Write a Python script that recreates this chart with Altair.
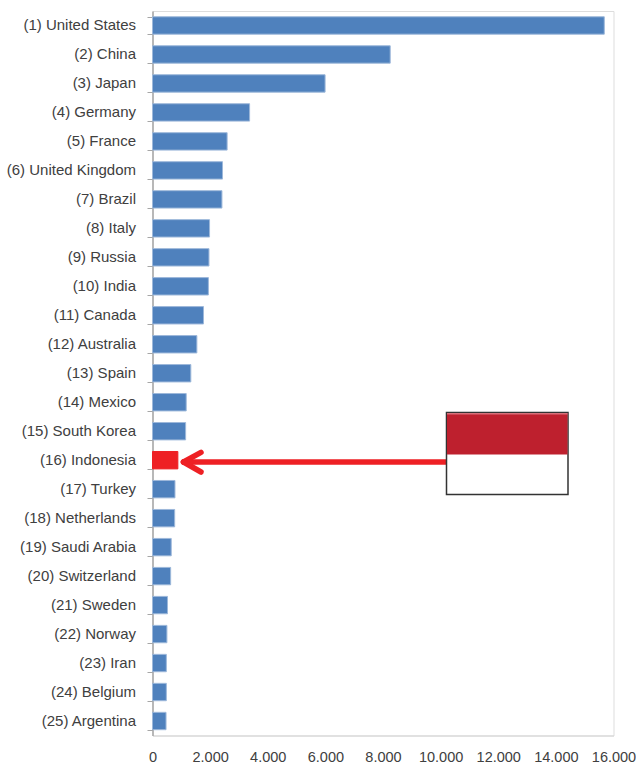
import altair as alt
import pandas as pd

countries = ["(1) United States", "(2) China", "(3) Japan", "(4) Germany", "(5) France",
             "(6) United Kingdom", "(7) Brazil", "(8) Italy", "(9) Russia", "(10) India",
             "(11) Canada", "(12) Australia", "(13) Spain", "(14) Mexico", "(15) South Korea",
             "(16) Indonesia", "(17) Turkey", "(18) Netherlands", "(19) Saudi Arabia",
             "(20) Switzerland", "(21) Sweden", "(22) Norway", "(23) Iran", "(24) Belgium",
             "(25) Argentina"]
gdp = [15680, 8250, 5990, 3370, 2590, 2430, 2410, 1980, 1960, 1940, 1770, 1540, 1330,
       1170, 1150, 880, 780, 770, 650, 630, 520, 500, 480, 480, 470]
highlight = "(16) Indonesia"

FONT = "Liberation Sans"
INK = "#404040"

df = pd.DataFrame({"country": countries, "gdp": gdp})
df["kind"] = ["focus" if c == highlight else "other" for c in countries]

y_enc = alt.Y("country:N", sort=countries, title=None,
              scale=alt.Scale(paddingInner=0.4, paddingOuter=0.2),
              axis=alt.Axis(tickBand="extent", tickSize=5.5, tickColor="#a6a6a6", tickWidth=1,
                            domainColor="#a6a6a6", domainWidth=1.5, labelFont=FONT,
                            labelFontSize=15, labelColor=INK, labelPadding=11.5, labelOffset=-1,
                            labelLimit=200, grid=False))
x_enc = alt.X("gdp:Q", title=None,
              scale=alt.Scale(domain=[0, 16000], nice=False),
              axis=alt.Axis(values=list(range(0, 16001, 2000)), grid=False, ticks=False,
                            domainColor="#d4d4d4", domainWidth=1, labelFont=FONT,
                            labelFontSize=14.5, labelColor=INK, labelPadding=15,
                            labelFlush=False, labelOverlap=False,
                            labelExpr="replace(format(datum.value, ','), ',', '.')"))

bars = alt.Chart(df).mark_bar(strokeWidth=1).encode(
    x=x_enc, y=y_enc,
    fill=alt.Fill("kind:N", scale=alt.Scale(domain=["focus", "other"], range=["#ee2024", "#4f81bd"]),
                  legend=None),
    stroke=alt.Stroke("kind:N", scale=alt.Scale(domain=["focus", "other"], range=["#ee2024", "#9db8da"]),
                      legend=None),
)

one_row = alt.Data(values=[{"row": 0}])

def box(x0, x1, y0, y1, **style):
    return alt.Chart(one_row).mark_rect(**style).encode(
        x=alt.value(x0), x2=alt.value(x1), y=alt.value(y0), y2=alt.value(y1))

def stroke(x0, y0, x1, y1, width):
    return alt.Chart(one_row).mark_rule(color="#ee2024", strokeWidth=width, strokeCap="round").encode(
        x=alt.value(x0), x2=alt.value(x1), y=alt.value(y0), y2=alt.value(y1))

# Pointer and flag, positioned in plot-area pixels
shaft = stroke(31, 451, 294, 451, 5.5)
head_top = stroke(31, 451, 48.5, 441.3, 5.5)
head_low = stroke(31, 451, 48.5, 461, 5.5)
flag_white = box(294, 415.5, 401.5, 483.5, fill="white", stroke="#333333", strokeWidth=1.5)
flag_red = box(294.5, 415, 402, 443.5, fill="#be202e")
flag_sheen = box(294.5, 415, 402, 403.5, fill="#d8707a")

chart = alt.layer(bars, shaft, head_top, head_low, flag_white, flag_red, flag_sheen).properties(
    width=461, height=724.5,
    padding={"left": 152.5, "top": 11, "right": 22.5, "bottom": 31},
    autosize=alt.AutoSizeParams(type="none"),
).configure_view(stroke="#d4d4d4", strokeWidth=1).configure(background="white")

chart.save("out.html", embed_options={"renderer": "svg", "actions": False})
